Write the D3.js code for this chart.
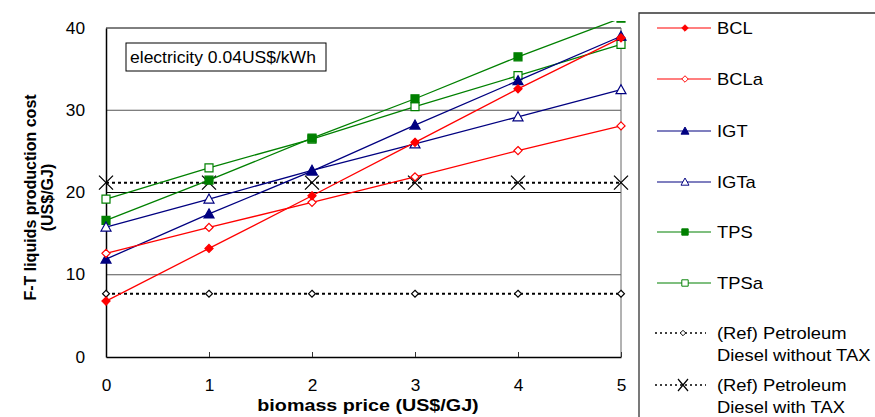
<!DOCTYPE html>
<html>
<head>
<meta charset="utf-8">
<script src="https://cdn.jsdelivr.net/npm/d3@7"></script>
<style>
    body { margin: 0; background: #fff; }
    svg { font-family: "Liberation Sans", Arial, Helvetica, sans-serif; }
    .tick-label { font-size: 16px; fill: #000; }
    .axis-title { font-size: 17px; font-weight: bold; fill: #000; }
    .legend-text { font-size: 17px; fill: #000; }
</style>
</head>
<body>
<div id="chart"></div>
<script>
// biomass price (US$/GJ)
const prices = [0, 1, 2, 3, 4, 5];

// F-T liquids production cost (US$/GJ)
const bcl   = [6.8, 13.2, 19.6, 26.1, 32.6, 38.8];
const bcla  = [12.6, 15.75, 18.8, 21.9, 25.1, 28.1];
const igt   = [11.9, 17.4, 22.6, 28.2, 33.6, 39.0];
const igta  = [15.8, 19.2, 22.7, 25.9, 29.2, 32.5];
const tps   = [16.6, 21.5, 26.6, 31.4, 36.5, 41.2];
const tpsa  = [19.2, 23.0, 26.5, 30.45, 34.2, 38.0];
const refNoTax = [7.7, 7.7, 7.7, 7.7, 7.7, 7.7];
const refTax   = [21.2, 21.2, 21.2, 21.2, 21.2, 21.2];

const yTicks = [0, 10, 20, 30, 40];
const gridValues = [10, 20, 30];

const seriesNames = ['BCL', 'BCLa', 'IGT', 'IGTa', 'TPS', 'TPSa',
    ['(Ref) Petroleum', 'Diesel without TAX'], ['(Ref) Petroleum', 'Diesel with TAX']];

const series = [
    { values: bcl,      color: '#ff0000', marker: 'diamond',  fill: true,  dotted: false },
    { values: bcla,     color: '#ff0000', marker: 'diamond',  fill: false, dotted: false },
    { values: igt,      color: '#000080', marker: 'triangle', fill: true,  dotted: false },
    { values: igta,     color: '#000080', marker: 'triangle', fill: false, dotted: false },
    { values: tps,      color: '#008000', marker: 'square',   fill: true,  dotted: false },
    { values: tpsa,     color: '#008000', marker: 'square',   fill: false, dotted: false },
    { values: refNoTax, color: '#000000', marker: 'smalldiamond', fill: false, dotted: true },
    { values: refTax,   color: '#000000', marker: 'cross',    fill: false, dotted: true }
];

const width = 875;
const height = 417;

// plot area edges
const margin = { top: 28, right: 254, bottom: 60, left: 106 };
const drawWidth = width - margin.left - margin.right;
const drawHeight = height - margin.top - margin.bottom;

const xScale = d3.scaleLinear().domain([0, 5]).range([0, drawWidth]);
const yScale = d3.scaleLinear().domain([0, 40]).range([drawHeight, 0]);

// the source picture is a bit wider than tall, so widen horizontal texts
function stretch(sel, k) {
    sel.each(function() {
        let w = this.getComputedTextLength();
        d3.select(this)
            .attr('textLength', w * k)
            .attr('lengthAdjust', 'spacingAndGlyphs');
    });
}

const svg = d3.select('#chart').append('svg')
    .attr('width', width)
    .attr('height', height);

svg.append('defs').append('clipPath')
    .attr('id', 'clip')
    .append('rect')
    .attr('x', -margin.left)
    .attr('y', -margin.top + 21)
    .attr('width', drawWidth + margin.left + 20)
    .attr('height', height);

const g = svg.append('g')
    .attr('transform', `translate(${margin.left},${margin.top})`);

// horizontal grid lines
g.selectAll('.grid')
    .data(gridValues)
    .enter()
    .append('line')
    .attr('x1', 0)
    .attr('x2', drawWidth)
    .attr('y1', d => yScale(d))
    .attr('y2', d => yScale(d))
    .attr('stroke', d => d === 20 ? '#000' : '#555')
    .attr('stroke-width', 1);

// top and right frame
g.append('line')
    .attr('x1', 0).attr('x2', drawWidth)
    .attr('y1', 0).attr('y2', 0)
    .attr('stroke', '#000');
g.append('line')
    .attr('x1', drawWidth).attr('x2', drawWidth)
    .attr('y1', 0).attr('y2', drawHeight)
    .attr('stroke', '#666');

// x axis, ticks pointing inwards
const xAxis = d3.axisBottom(xScale)
    .tickValues(prices)
    .tickFormat(d3.format('d'))
    .tickSizeInner(-5)
    .tickSizeOuter(0)
    .tickPadding(23);
const xg = g.append('g')
    .attr('transform', `translate(0,${drawHeight})`)
    .call(xAxis);
xg.select('.domain').attr('stroke', '#000').attr('stroke-width', 1.5);
xg.selectAll('.tick line').attr('stroke', '#333');
xg.selectAll('.tick text').attr('class', 'tick-label').attr('font-family', null).attr('font-size', null);
stretch(xg.selectAll('.tick text'), 1.08);

// y axis
const yAxis = d3.axisLeft(yScale).tickValues(yTicks).tickSize(0).tickPadding(21);
const yg = g.append('g').call(yAxis);
yg.select('.domain').attr('stroke', '#000').attr('stroke-width', 1.5);
yg.selectAll('.tick text').attr('class', 'tick-label').attr('font-family', null).attr('font-size', null);
stretch(yg.selectAll('.tick text'), 1.08);

// annotation box
const note = g.append('g').attr('transform', 'translate(20,15)');
note.append('rect')
    .attr('width', 200)
    .attr('height', 28)
    .attr('fill', '#fff')
    .attr('stroke', '#000');
const noteText = note.append('text')
    .attr('x', 4)
    .attr('y', 20)
    .attr('font-size', 17)
    .text('electricity 0.04US$/kWh');
stretch(noteText, 1.03);

function markerPath(type) {
    if (type === 'diamond') return d3.symbol(d3.symbolDiamond2, 42)();
    if (type === 'smalldiamond') return d3.symbol(d3.symbolDiamond2, 30)();
    if (type === 'square') return 'M-4,-4H4V4H-4Z';
    if (type === 'triangle') return 'M0,-5L5,4H-5Z';
    if (type === 'cross') return 'M-7,-7L7,7M-7,7L7,-7';
    return '';
}

function drawMarker(sel, s) {
    sel.append('path')
        .attr('d', markerPath(s.marker))
        .attr('fill', s.marker === 'cross' ? 'none' : (s.fill ? s.color : '#fff'))
        .attr('stroke', s.color)
        .attr('stroke-width', s.marker === 'cross' ? 1.3 : 1.2);
}

const line = d3.line()
    .x((d, i) => xScale(prices[i]))
    .y(d => yScale(d));

const plot = g.append('g').attr('clip-path', 'url(#clip)');

// draw from reference lines up so coloured series stay on top
series.slice().reverse().forEach(s => {
    let sg = plot.append('g');
    sg.append('path')
        .datum(s.values)
        .attr('d', line)
        .attr('fill', 'none')
        .attr('stroke', s.color)
        .attr('stroke-width', s.dotted ? 2 : 1.3)
        .attr('stroke-dasharray', s.dotted ? '3,3' : null);
    sg.selectAll('.pt')
        .data(s.values)
        .enter()
        .append('g')
        .attr('transform', (d, i) => `translate(${xScale(prices[i])},${yScale(d)})`)
        .each(function() { drawMarker(d3.select(this), s); });
});

// axis titles
const xTitle = svg.append('text')
    .attr('class', 'axis-title')
    .attr('text-anchor', 'middle')
    .attr('transform', `translate(368,411)`)
    .text('biomass price (US$/GJ)');
stretch(xTitle, 1.16);

svg.append('text')
    .attr('class', 'axis-title')
    .attr('text-anchor', 'middle')
    .attr('transform', `translate(36,${margin.top + drawHeight / 2 + 5}) rotate(-90)`)
    .style('font-size', '16px')
    .text('F-T liquids production cost');
svg.append('text')
    .attr('class', 'axis-title')
    .attr('text-anchor', 'middle')
    .attr('transform', `translate(53,${margin.top + drawHeight / 2 + 5}) rotate(-90)`)
    .style('font-size', '16px')
    .text('(US$/GJ)');

// legend frame
svg.append('path')
    .attr('d', `M639,${height}V13H${width}`)
    .attr('fill', 'none')
    .attr('stroke', '#333')
    .attr('stroke-width', 1.3);

const legendY = [28, 79, 131, 182, 232, 283, 333, 385];
series.forEach((s, i) => {
    let lg = svg.append('g').attr('transform', `translate(0,${legendY[i]})`);
    lg.append('line')
        .attr('x1', s.dotted ? 655 : 657).attr('x2', s.dotted ? 706 : 711)
        .attr('y1', 0).attr('y2', 0)
        .attr('stroke', s.color)
        .attr('stroke-width', s.dotted ? 1.4 : 1.2)
        .attr('stroke-dasharray', s.dotted ? '2,3' : null);
    let m = lg.append('g');
    if (s.marker === 'cross') {
        m.attr('transform', 'translate(683,0)');
        m.append('path').attr('d', 'M-5,-6L5,6M-5,6L5,-6').attr('stroke', '#000').attr('stroke-width', 1.2).attr('fill', 'none');
    } else {
        m.attr('transform', `translate(${s.dotted ? 683 : 685},0) scale(0.8)`);
        drawMarker(m, s);
    }
    let name = Array.isArray(seriesNames[i]) ? seriesNames[i] : [seriesNames[i]];
    name.forEach((txt, j) => {
        let t = lg.append('text')
            .attr('class', 'legend-text')
            .attr('x', 717)
            .attr('y', 6 + j * 22)
            .text(txt);
        stretch(t, 1.08);
    });
});
</script>
</body>
</html>
